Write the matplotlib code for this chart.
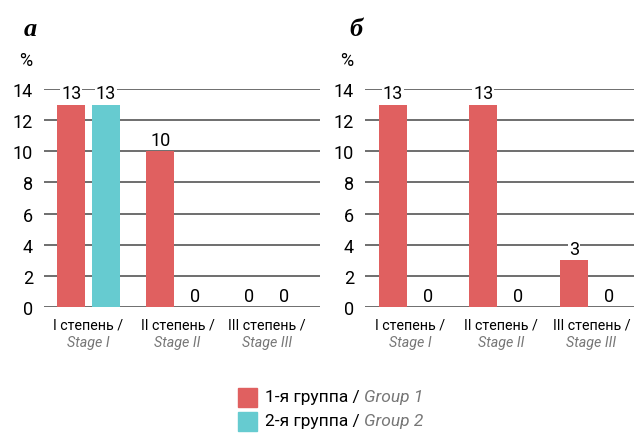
import numpy as np
import matplotlib.pyplot as plt

plt.rcParams['font.family'] = ['Roboto', 'DejaVu Sans']

# data
stages_ru = ["I степень /", "II степень /", "III степень /"]
stages_en = ["Stage I", "Stage II", "Stage III"]
a_group1 = [13, 10, 0]
a_group2 = [13, 0, 0]
b_group1 = [13, 13, 3]
b_group2 = [0, 0, 0]
yticks = [0, 2, 4, 6, 8, 10, 12, 14]
legend_ru = ["1-я группа / ", "2-я группа / "]
legend_en = ["Group 1", "Group 2"]

RED = '#E06060'
CYAN = '#66CBD0'
GRID = '#555555'
GRAY_TXT = '#777777'

fig = plt.figure(figsize=(6.34, 4.35), dpi=100)
ax_a = fig.add_axes([44 / 634, 127 / 435, 276 / 634, 218 / 435])
ax_b = fig.add_axes([365 / 634, 127 / 435, 269 / 634, 218 / 435])


def draw_panel(ax, g1, g2, xlim, width_px):
    x = np.arange(len(stages_ru))
    w = 0.31
    off = 0.195
    ax.set_axisbelow(True)
    ax.yaxis.grid(True, color=GRID, lw=1.2)
    bars1 = ax.bar(x - off, g1, w, color=RED, zorder=2)
    bars2 = ax.bar(x + off, g2, w, color=CYAN, zorder=2)
    for bars in (bars1, bars2):
        for b in bars:
            h = b.get_height()
            ax.annotate(f"{h:g}", (b.get_x() + b.get_width() / 2, h),
                        xytext=(0, 1.5), textcoords='offset points',
                        ha='center', va='bottom', fontsize=13, zorder=3,
                        bbox=dict(boxstyle='square,pad=0.05', fc='white', ec='none'))
    ax.set_ylim(0, 14)
    ax.set_xlim(*xlim)
    ax.set_yticks(yticks)
    ax.tick_params(axis='y', length=0, pad=8, labelsize=13)
    ax.set_xticks([])
    for s in ax.spines.values():
        s.set_visible(False)
    tr = ax.get_xaxis_transform()
    for i in x:
        ax.text(i, -0.08, stages_ru[i], transform=tr, ha='center', va='center',
                fontsize=10.3)
        ax.text(i, -0.16, stages_en[i], transform=tr, ha='center', va='center',
                fontsize=10.3, style='italic', color=GRAY_TXT)
    ax.text(-12 / width_px, 1.135, "%", transform=ax.transAxes, ha='right',
            va='center', fontsize=13)


draw_panel(ax_a, a_group1, a_group2, (-0.5, 2.6), 276)
draw_panel(ax_b, b_group1, b_group2, (-0.5, 2.47), 269)

fig.text(30 / 634, 1 - 29 / 435, "а", fontsize=19, fontweight='bold', style='italic',
         family='Liberation Serif', ha='center', va='center')
fig.text(356 / 634, 1 - 29 / 435, "б", fontsize=19, fontweight='bold', style='italic',
         family='Liberation Serif', ha='center', va='center')

# legend built by hand so the English part can be italic and gray
fig.canvas.draw()
renderer = fig.canvas.get_renderer()
for k, color in enumerate([RED, CYAN]):
    yc = 1 - (398 + 24 * k) / 435
    fig.patches.append(plt.Rectangle((238 / 634, yc - 9.5 / 435), 19 / 634, 19 / 435,
                                     transform=fig.transFigure, color=color))
    t = fig.text(265 / 634, yc, legend_ru[k], fontsize=12.5, va='center', ha='left')
    bb = t.get_window_extent(renderer)
    fig.text(bb.x1 / fig.bbox.width, yc, legend_en[k], fontsize=12.5, va='center',
             ha='left', style='italic', color=GRAY_TXT)

fig.savefig('out.png', dpi=100)
